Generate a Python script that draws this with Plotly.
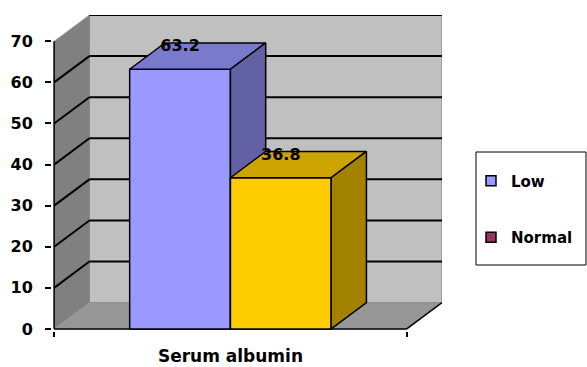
import plotly.graph_objects as go

# ---- data ----
category = "Serum albumin"
series = ["Low", "Normal"]
values = [63.2, 36.8]
bar_colors = ["#9999FF", "#FFCC00"]
legend_colors = ["#9999FF", "#993366"]
y_ticks = [0, 10, 20, 30, 40, 50, 60, 70]

# ---- 3D box styling ----
GAP = 1.5          # gap width, as a fraction of one bar
DX, DY = 0.1, 6.4  # depth offset of the box (x units, y units)
YMAX = max(y_ticks)
FONT = dict(family="DejaVu Sans", size=15, color="black", weight="bold")
W, H = 587, 367


def shade(hex_color, f):
    h = hex_color.lstrip("#")
    r, g, b = (int(h[i:i + 2], 16) for i in (0, 2, 4))
    return "#%02X%02X%02X" % (int(r * f), int(g * f), int(b * f))


fig = go.Figure()

# walls, floor and gridlines
shapes = [
    dict(type="rect", x0=-0.5 + DX, x1=0.5 + DX, y0=DY, y1=YMAX + DY,
         fillcolor="#C0C0C0", line=dict(color="#808080", width=1)),
    dict(type="path",
         path=f"M -0.5,0 L {-0.5 + DX},{DY} L {-0.5 + DX},{YMAX + DY} L -0.5,{YMAX} Z",
         fillcolor="#808080", line=dict(color="#8C8C8C", width=0.5)),
    dict(type="path",
         path=f"M -0.5,0 L 0.5,0 L {0.5 + DX},{DY} L {-0.5 + DX},{DY} Z",
         fillcolor="#969696", line=dict(color="#8C8C8C", width=0.5)),
]
for t in y_ticks[1:]:
    shapes.append(dict(type="line", x0=-0.5 + DX, x1=0.5 + DX, y0=t + DY, y1=t + DY,
                       line=dict(color="black", width=2)))
    if t < YMAX:
        shapes.append(dict(type="line", x0=-0.5, x1=-0.5 + DX, y0=t, y1=t + DY,
                           line=dict(color="black", width=2)))
# axis lines and the floor's right edge
shapes += [
    dict(type="line", x0=-0.5, x1=-0.5, y0=0, y1=YMAX, line=dict(color="black", width=1.5)),
    dict(type="line", x0=-0.5, x1=0.5, y0=0, y1=0, line=dict(color="black", width=1.5)),
    dict(type="line", x0=0.5, x1=0.5 + DX, y0=0, y1=DY, line=dict(color="black", width=1.5)),
]
for s in shapes:
    s.update(xref="x", yref="y", layer="below")

# legend frame (positioned in pixels of the page)
L_LEFT, L_RIGHT, L_TOP, L_BOTTOM = 476, 586, 152, 265
M_L, M_R, M_T, M_B = 52, 145, 15, 36
pw, ph = W - M_L - M_R, H - M_T - M_B
shapes.append(dict(type="rect", xref="paper", yref="paper",
                   x0=(L_LEFT - M_L) / pw, x1=(L_RIGHT - M_L) / pw,
                   y0=(H - M_B - L_BOTTOM) / ph, y1=(H - M_B - L_TOP) / ph,
                   line=dict(color="black", width=1), fillcolor="rgba(0,0,0,0)"))

# bars: front, top and side faces of each box
bar_w = 1 / (len(series) + GAP)
x_start = -0.5 + GAP * bar_w / 2
edge = dict(color="black", width=1.5)
for i, (name, v, col) in enumerate(zip(series, values, bar_colors)):
    x0 = x_start + i * bar_w
    x1 = x0 + bar_w
    faces = [
        ([x0, x1, x1, x0, x0], [0, 0, v, v, 0], col),
        ([x0, x1, x1 + DX, x0 + DX, x0], [v, v, v + DY, v + DY, v], shade(col, 0.8)),
        ([x1, x1 + DX, x1 + DX, x1, x1], [0, DY, v + DY, v, 0], shade(col, 0.64)),
    ]
    for fx, fy, fc in faces:
        fig.add_trace(go.Scatter(x=fx, y=fy, mode="lines", fill="toself",
                                 fillcolor=fc, line=edge, showlegend=False,
                                 legendgroup=name, hoverinfo="skip"))

# value labels, sitting at the back edge of each box top
fig.add_trace(go.Scatter(
    x=[x_start + (i + 0.5) * bar_w for i in range(len(values))],
    y=[v + DY - 1.0 for v in values],
    mode="text", text=[f"{v}" for v in values], textposition="middle center",
    textfont=dict(FONT, size=16), showlegend=False, hoverinfo="skip", cliponaxis=False))

# legend entries
for name, lc in zip(series, legend_colors):
    fig.add_trace(go.Scatter(
        x=[None], y=[None], mode="markers", name=name, legendgroup=name,
        marker=dict(symbol="square", size=10, color=lc,
                    line=dict(color="black", width=1.5))))

fig.update_layout(
    width=W, height=H,
    margin=dict(l=M_L, r=M_R, t=M_T, b=M_B, autoexpand=False),
    paper_bgcolor="white", plot_bgcolor="white",
    shapes=shapes,
    showlegend=True,
    legend=dict(xref="container", yref="container",
                x=471 / W, y=1 - 164.5 / H, xanchor="left", yanchor="top",
                font=FONT, bgcolor="rgba(0,0,0,0)", borderwidth=0,
                tracegroupgap=34, itemclick=False),
    font=FONT,
)
fig.update_xaxes(range=[-0.506, 0.5 + DX], showgrid=False, zeroline=False,
                 showline=False, tickmode="array", tickvals=[0], ticktext=[category],
                 ticks="", tickfont=dict(FONT, size=17), ticklabelstandoff=13,
                 minor=dict(tickmode="array", tickvals=[-0.5, 0.5], ticks="outside",
                            ticklen=5, tickcolor="black", tickwidth=1.5, showgrid=False),
                 automargin=False, fixedrange=True)
fig.update_yaxes(range=[-0.5, YMAX + DY], showgrid=False, zeroline=False,
                 showline=False, tickmode="array", tickvals=y_ticks,
                 ticks="outside", ticklen=6, tickcolor="black", tickwidth=1.5,
                 tickfont=dict(FONT, size=16), ticklabelstandoff=9,
                 automargin=False, fixedrange=True)

fig.write_html("out.html")
